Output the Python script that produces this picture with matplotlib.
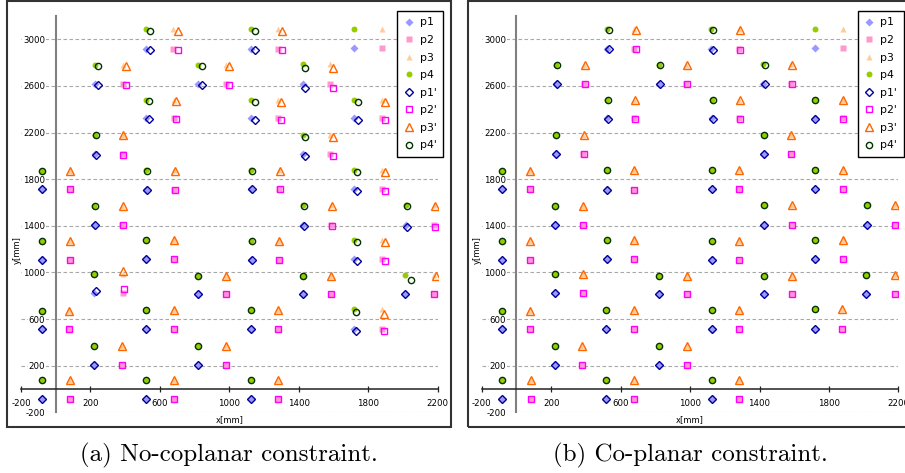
import matplotlib
matplotlib.use("Agg")
import matplotlib.pyplot as plt
from matplotlib.patches import Rectangle

plt.rcParams["axes.unicode_minus"] = False

# one entry per calibration marker: left/right x, bottom/top y (mm)
GROUP_XL = [521, 1122, 1718, 226, 820, 1423, 521, 1127, 1720, 226, 1425,
            -81, 521, 1127, 1720, 223, 1425, 2018, -81, 521, 1125, 1720,
            223, 821, 1427, 2013, -81, 518, 1125, 1719, 220, 821, -81, 518, 1125]
GROUP_XR = [678, 1280, 1880, 389, 979, 1582, 680, 1282, 1880, 386, 1582,
            80, 680, 1284, 1881, 383, 1586, 2178, 80, 680, 1284, 1880,
            386, 981, 1586, 2178, 79, 680, 1283, 1878, 380, 983, 82, 680, 1282]
GROUP_YB = [2920, 2917, 2923, 2617, 2617, 2620, 2322, 2322, 2322, 2014, 2014,
            1716, 1710, 1716, 1716, 1407, 1410, 1407, 1107, 1112, 1107, 1112,
            821, 812, 812, 815, 517, 517, 517, 517, 209, 209, -83, -83, -83]
GROUP_YT = [3086, 3086, 3086, 2780, 2780, 2785, 2479, 2479, 2479, 2179, 2182,
            1873, 1875, 1875, 1875, 1573, 1579, 1579, 1273, 1278, 1273, 1278,
            990, 970, 970, 980, 672, 678, 678, 682, 372, 372, 80, 80, 74]

# estimated marker offset (mm) per group; None = not estimated
SHIFT_A = [(24, -11), (25, -11), None, (15, -6), (20, -9), (14, -35), (15, -7),
           (18, -16), (19, -18), (4, -3), (13, -18), (4, -3), (5, -6), (5, -4),
           (15, -14), (2, -2), (6, -8), (4, -13), (0, 0), (0, 0), (3, -3),
           (15, -13), (0, 0), (0, 0), (0, 0), (0, 0), (0, 0), (0, 0), (0, 0),
           (12, -23), (0, 0), (0, 0), (0, 0), (0, 0), (0, 0)]
# (group, point index 0..3 = p1..p4) -> own offset
EXTRA_A = {(22, 0): (10, 17), (22, 1): (10, 40), (22, 2): (4, 26),
           (25, 3): (35, -43), (25, 2): (13, -11), (29, 2): (15, -37)}
SHIFT_B = [(12, -4), (9, -5), None, (7, -3), (6, -2), (6, -6), (5, -3),
           (3, -3), (2, -2), (3, -1)] + [(0, 0)] * 25
EXTRA_B = {}

NAMES = ["p1", "p2", "p3", "p4"]
FILL_COLORS = ["#9999ff", "#ff99cc", "#ffcc99", "#99cc00"]
OPEN_COLORS = ["#000099", "#ff00ff", "#ff6600", "#003300"]
MARKERS = ["D", "s", "^", "o"]
FILL_MS = [3.6, 4.3, 5.0, 4.3]
OPEN_MS = [3.7, 4.5, 5.3, 4.5]

Y_TICKS = [-200, 200, 600, 1000, 1400, 1800, 2200, 2600, 3000]
X_TICKS = [-200, 200, 600, 1000, 1400, 1800, 2200]

W, H = 905, 473


def true_points():
    pts = []
    for xl, xr, yb, yt in zip(GROUP_XL, GROUP_XR, GROUP_YB, GROUP_YT):
        pts.append([(xl, yb), (xr, yb), (xr, yt), (xl, yt)])
    return pts


def draw_panel(ax, shifts, extra):
    pts = true_points()
    for k in range(4):
        xs = [g[k][0] for g in pts]
        ys = [g[k][1] for g in pts]
        ax.plot(xs, ys, ls="none", marker=MARKERS[k], ms=FILL_MS[k],
                mfc=FILL_COLORS[k], mec="none", label=NAMES[k], zorder=3)
    for k in range(4):
        xs, ys = [], []
        for i, g in enumerate(pts):
            if shifts[i] is None:
                continue
            dx, dy = extra.get((i, k), shifts[i])
            xs.append(g[k][0] + dx)
            ys.append(g[k][1] + dy)
        ax.plot(xs, ys, ls="none", marker=MARKERS[k], ms=OPEN_MS[k],
                mfc="none", mec=OPEN_COLORS[k], mew=1.0,
                label=NAMES[k] + "'", zorder=4)

    ax.set_xlim(-200, 2200)
    ax.set_ylim(-200, 3200)
    for s in ["top", "right"]:
        ax.spines[s].set_visible(False)
    ax.spines["left"].set_position(("data", 0))
    ax.spines["bottom"].set_position(("data", 0))
    ax.spines["left"].set_color("#808080")
    ax.spines["left"].set_linewidth(1.5)
    ax.spines["bottom"].set_color("#222222")
    ax.spines["bottom"].set_linewidth(1.1)

    ax.set_yticks(Y_TICKS)
    ax.set_xticks(X_TICKS)
    ax.tick_params(axis="y", length=0, pad=7.5, labelsize=6.2)
    ax.tick_params(axis="x", direction="inout", length=4, width=0.9,
                   pad=5.5, labelsize=6.2, color="#222222")
    for lbl in ax.get_yticklabels():
        lbl.set_bbox(dict(facecolor="white", edgecolor="none", pad=0.6))
    ax.yaxis.grid(True, color="#a8a8a8", linestyle=(0, (3.2, 2.2)), linewidth=0.8)
    ax.get_ygridlines()[0].set_linestyle((0, (1, 1.5)))
    ax.set_axisbelow(True)

    ax.set_xlabel("x[mm]", fontsize=6, labelpad=0)
    ax.set_ylabel("y[mm]", fontsize=6, labelpad=0)
    ax.xaxis.set_label_coords(0.5, -0.008)
    ax.yaxis.set_label_coords(0.001, 0.41)

    leg = ax.legend(loc="upper left", bbox_to_anchor=(0.902, 1.013),
                    fancybox=False, edgecolor="black", framealpha=1,
                    fontsize=7.8, handlelength=1.0, handletextpad=0.5,
                    labelspacing=0.7, borderpad=0.6, borderaxespad=0,
                    numpoints=1)
    leg.get_frame().set_linewidth(1.0)


fig = plt.figure(figsize=(W / 100, H / 100), dpi=100)

panels = [(21, 7, SHIFT_A, EXTRA_A, "(a) No-coplanar constraint."),
          (481.7, 468, SHIFT_B, EXTRA_B, "(b) Co-planar constraint.")]
for ax_left, frame_left, shifts, extra, caption in panels:
    ax = fig.add_axes([ax_left / W, (H - 412.3) / H, 416.7 / W, 396.3 / H])
    ax.patch.set_alpha(0)
    draw_panel(ax, shifts, extra)
    fig.add_artist(Rectangle((frame_left / W, (H - 427) / H), 444 / W, 426 / H,
                             transform=fig.transFigure, fill=False,
                             lw=1.5, ec="#333333"))
    fig.text((frame_left + 222) / W, (H - 455) / H, caption,
             ha="center", va="center", fontsize=18, family="cmr10")

fig.savefig("out.png", dpi=100)
